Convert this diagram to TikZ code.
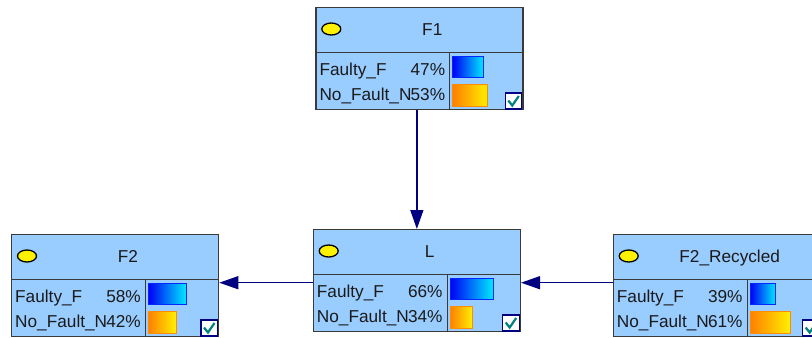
\documentclass[tikz,border=0pt]{standalone}
\usepackage{fontspec}
\setmainfont{Liberation Sans}
\usetikzlibrary{arrows.meta}
\definecolor{boxfill}{HTML}{99CCFF}
\definecolor{boxline}{HTML}{3A3A3A}
\definecolor{arrcol}{HTML}{000080}
\definecolor{chk}{HTML}{008080}
\definecolor{txt}{HTML}{1A1A1A}
\tikzset{
  boxst/.style={draw=boxline, fill=boxfill, line width=1.3bp, inner sep=0pt, minimum width=207bp, minimum height=102bp},
  linest/.style={draw=boxline, line width=1.3bp},
  lab/.style={inner sep=0pt, text=txt, font=\fontsize{17.3}{20}\selectfont},
  bluebar/.style={draw={rgb,255:red,0;green,40;blue,255}, line width=1bp, left color={rgb,255:red,0;green,0;blue,245}, right color={rgb,255:red,0;green,235;blue,255}},
  orangebar/.style={draw={rgb,255:red,255;green,140;blue,0}, line width=1bp, left color={rgb,255:red,255;green,128;blue,0}, right color={rgb,255:red,255;green,240;blue,0}},
  chkbox/.style={draw=arrcol, fill=white, line width=1.2bp},
  chkmark/.style={draw=chk, line width=2.2bp},
  ell/.style={draw=black, fill=yellow, line width=1.3bp},
  arr/.style={draw=arrcol, line width=1.4bp, -{Triangle[length=19bp,width=13bp]}}
}
\newcommand{\bnnode}[6]{%
  \begin{scope}[shift={(#2,#3)}]
    \node[boxst, anchor=north west] (#1) at (0,0) {};
    \draw[linest] (0,45.5) -- (207,45.5);
    \draw[linest] (134.5,45.5) -- (134.5,102);
    \draw[ell] (16,22) ellipse [x radius=9.5, y radius=6];
    \node[lab, anchor=base] (#1-title) at (117,28) {#4};
    \node[lab, anchor=base west] (#1-s1) at (4,68) {Faulty\_F};
    \node[lab, anchor=base east] (#1-p1) at (130,68) {#5\%};
    \node[lab, anchor=base west] (#1-s2) at (4,93) {No\_Fault\_N};
    \node[lab, anchor=base east] (#1-p2) at (130,93) {#6\%};
    \draw[bluebar] (137.5,49) rectangle ({137.5+0.655*#5},70);
    \draw[orangebar] (137.5,77) rectangle ({137.5+0.655*#6},99.5);
    \draw[chkbox] (190,86) rectangle (206.5,102);
    \draw[chkmark] (193,93.5) -- (197,98.5) -- (203.5,89);
  \end{scope}%
}
\begin{document}
\begin{tikzpicture}[x=1bp,y=-1bp]
  \useasboundingbox (0,0) rectangle (812,337);
  \clip (0,0) rectangle (812,337);
  \fill[white] (0,0) rectangle (812,337);
  \bnnode{F1}{315.3}{7}{F1}{47}{53}
  \bnnode{F2}{11}{234}{F2}{58}{42}
  \bnnode{L}{312.7}{229}{L}{66}{34}
  \bnnode{F2R}{612.7}{234}{F2\_Recycled}{39}{61}
  \coordinate (yarr) at (0,282.7);
  \draw[arr] (F1.south -| L.north) -- (L.north);
  \draw[arr] (L.west |- yarr) -- (F2.east |- yarr);
  \draw[arr] (F2R.west |- yarr) -- (L.east |- yarr);
\end{tikzpicture}
\end{document}
